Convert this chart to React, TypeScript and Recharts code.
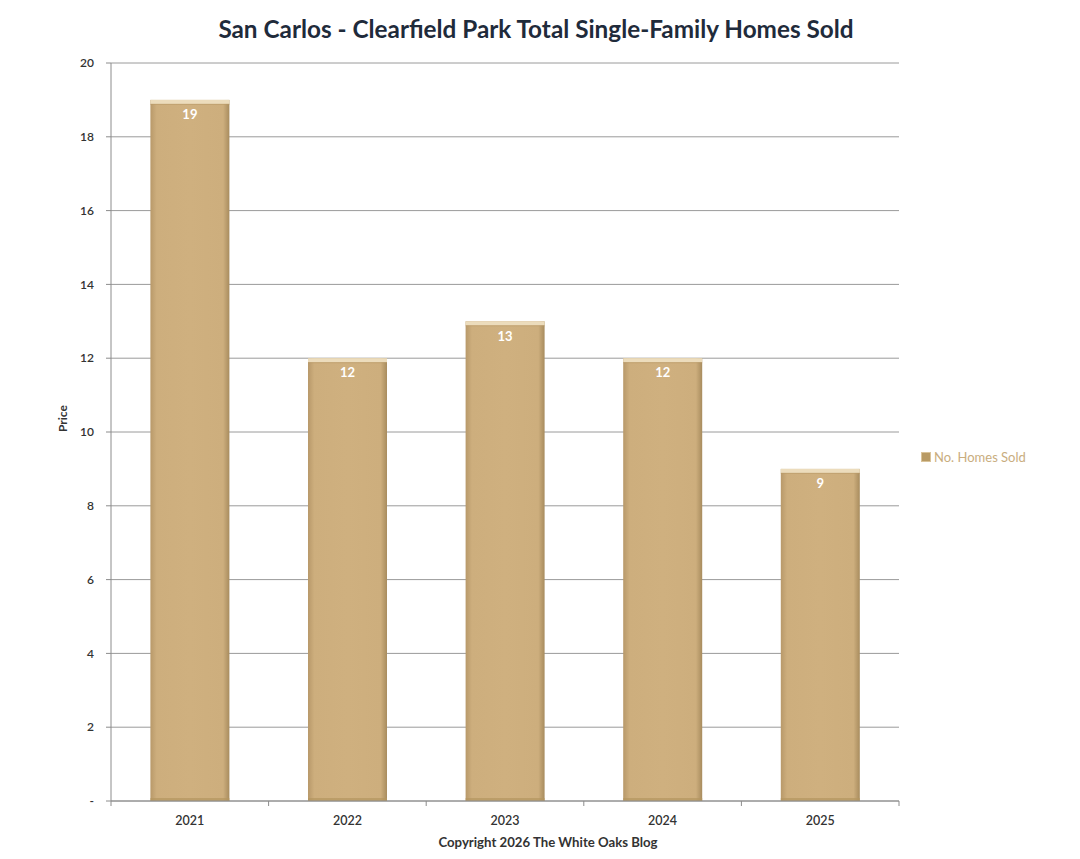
import React from "react";
import {
  BarChart,
  Bar,
  XAxis,
  YAxis,
  CartesianGrid,
  LabelList,
  Legend,
} from "recharts";

const years = ["2021", "2022", "2023", "2024", "2025"];
const homesSold = [19, 12, 13, 12, 9];
const yTicks = [0, 2, 4, 6, 8, 10, 12, 14, 16, 18, 20];

const data = years.map((year, i) => ({ year, sold: homesSold[i] }));

const FONT = "Lato, 'Open Sans', sans-serif";
const BAR = "#cfb07f";

// bevelled bar: horizontal gradient with a light cap on top
const BevelBar = (props: any) => {
  const { x, y, width, height } = props;
  if (!height || height <= 0) return null;
  return (
    <g>
      <rect x={x} y={y} width={width} height={height} fill="url(#barFill)" />
      <rect x={x} y={y} width={width} height={4} fill="#ecdcbc" />
      <rect x={x} y={y + 4} width={width} height={1} fill="#b99a69" opacity={0.6} />
      <rect x={x} y={y + height - 3} width={width} height={3} fill="#b3955f" opacity={0.7} />
    </g>
  );
};

// x ticks sit at category boundaries, label in the middle
const YearTick = (props: any) => {
  const { x, y, payload, index } = props;
  const half = payload.offset || 0;
  return (
    <g>
      <line x1={x - half} x2={x - half} y1={y - 8} y2={y - 3} stroke="#8c8c8c" />
      {index === years.length - 1 && (
        <line x1={x + half} x2={x + half} y1={y - 8} y2={y - 3} stroke="#8c8c8c" />
      )}
      <text x={x} y={y + 16} textAnchor="middle" fontSize={12.5} fontFamily={FONT} fill="#333" fontWeight={600}>
        {payload.value}
      </text>
    </g>
  );
};

const LegendBox = () => (
  <div style={{ display: "flex", alignItems: "center", fontFamily: FONT, fontSize: 13, color: "#c9ad7e" }}>
    <span style={{ width: 8, height: 8, background: "#b89a64", border: "1px solid #d9c39a", marginRight: 3 }} />
    No. Homes Sold
  </div>
);

export default function App() {
  return (
    <div style={{ position: "absolute", left: 0, top: 0, width: 1080, height: 859, background: "#fff" }}>
      <div
        style={{
          position: "absolute",
          top: 14,
          left: -4,
          width: 1080,
          textAlign: "center",
          fontFamily: FONT,
          fontWeight: 700,
          fontSize: 24.3,
          color: "#1f2b3b",
        }}
      >
        San Carlos - Clearfield Park Total Single-Family Homes Sold
      </div>
      <BarChart
        width={1080}
        height={859}
        data={data}
        margin={{ top: 63, right: 41, left: 41, bottom: 28 }}
        barCategoryGap="25%"
      >
        <defs>
          <linearGradient id="barFill" x1="0" y1="0" x2="1" y2="0">
            <stop offset="0" stopColor="#b8996a" />
            <stop offset="0.08" stopColor="#cdae7d" />
            <stop offset="0.5" stopColor={BAR} />
            <stop offset="0.92" stopColor="#cdae7d" />
            <stop offset="1" stopColor="#a88c5e" />
          </linearGradient>
        </defs>
        <CartesianGrid vertical={false} stroke="#9a9a9a" strokeWidth={1} />
        <XAxis
          dataKey="year"
          axisLine={{ stroke: "#8c8c8c" }}
          tickLine={false}
          tick={<YearTick />}
          height={30}
          interval={0}
          label={{
            value: "Copyright 2026 The White Oaks Blog",
            position: "insideBottom",
            offset: -16,
            dx: 43,
            fontSize: 13.2,
            fontWeight: 700,
            fill: "#333",
            fontFamily: FONT,
          }}
        />
        <YAxis
          domain={[0, 20]}
          ticks={yTicks}
          interval={0}
          width={70}
          axisLine={{ stroke: "#8c8c8c" }}
          tickLine={{ stroke: "#8c8c8c" }}
          tickSize={5}
          tickMargin={12}
          tick={{ fontSize: 12, fill: "#333", fontFamily: FONT, fontWeight: 600 }}
          tickFormatter={(v) => (v === 0 ? "-" : String(v))}
          label={{
            value: "Price",
            angle: -90,
            position: "insideLeft",
            offset: 22,
            fontSize: 12,
            fontWeight: 700,
            fill: "#333",
            fontFamily: FONT,
          }}
        />
        <Legend
          layout="vertical"
          align="right"
          verticalAlign="middle"
          content={<LegendBox />}
          wrapperStyle={{ left: 921, top: 449, width: 140 }}
        />
        <Bar dataKey="sold" name="No. Homes Sold" fill={BAR} shape={<BevelBar />} isAnimationActive={false}>
          <LabelList
            dataKey="sold"
            position="insideTop"
            offset={10}
            fill="#fff"
            fontSize={13}
            fontWeight={700}
            fontFamily={FONT}
          />
        </Bar>
      </BarChart>
    </div>
  );
}
